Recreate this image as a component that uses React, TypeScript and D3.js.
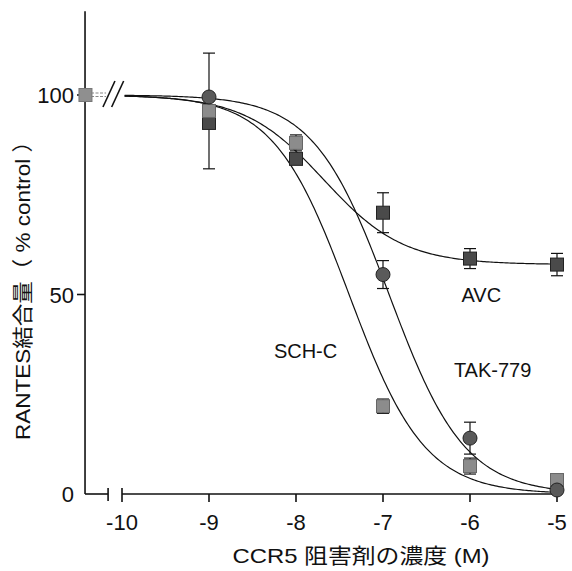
import React from "react"
import * as d3 from "d3"

// log concentrations (M) and readings (% control)
const xTicks = [-10, -9, -8, -7, -6, -5]
const yTicks = [0, 50, 100]
const concentrations = [-9, -8, -7, -6, -5]

const avcValues = [93, 84, 70.5, 59, 57.5]
const avcErrors = [0, 0, 5, 2.5, 2.8]
const schValues = [96, 88, 22, 7, 3.5]
const schErrors = [14.5, 2, 1.8, 2, 0]
const takValues = [99.5, null, 55, 14, 1]
const takErrors = [0, 0, 3.5, 4, 0]

// control (no inhibitor), drawn left of the axis break
const controlLogConc = -10.42
const controlValue = 100

// fitted sigmoid parameters: AVC, SCH-C, TAK-779
const fitNames = ["AVC", "SCH-C", "TAK-779"]
const fitTop = [100, 100, 100]
const fitBottom = [57.5, 0, 0]
const fitLogIC50 = [-7.68, -7.39, -6.93]
const fitHill = [0.95, 1.0, 1.0]

// label anchors (log conc, % control)
const labelText = ["AVC", "TAK-779", "SCH-C"]
const labelX = [-5.87, -5.74, -7.89]
const labelY = [48.1, 29.3, 34.1]

const W = 572
const H = 571
const FONT = "'Liberation Sans', Arial, Helvetica, 'Noto Sans CJK JP', sans-serif"

const x = d3.scaleLinear().domain([-10, -5]).range([122, 557])
const y = d3.scaleLinear().domain([0, 100]).range([494, 95])

function hill(i: number, lx: number) {
  return fitBottom[i] + (fitTop[i] - fitBottom[i]) / (1 + Math.pow(10, fitHill[i] * (lx - fitLogIC50[i])))
}

export default function App() {
  const xs = d3.range(-9.97, -4.999, 0.02)
  const curves = fitNames.map((_, i) =>
    d3.line<number>().x(d => x(d)).y(d => y(hill(i, d)))(xs) as string
  )

  const axisX0 = x(-10.425)
  const breakL = x(-10.16)
  const breakR = x(-10)
  const axisXEnd = x(-4.97)
  const y0 = y(0)
  const yTop = y(121)
  const cap = 6

  const errorBars = (vals: (number | null)[], errs: number[]) =>
    concentrations.map((c, k) => {
      const v = vals[k]
      const e = errs[k]
      if (v == null || !e) return null
      const cx = x(c)
      return (
        <g key={"e" + k} stroke="#111" strokeWidth={1.2}>
          <line x1={cx} x2={cx} y1={y(v + e)} y2={y(v - e)} />
          <line x1={cx - cap} x2={cx + cap} y1={y(v + e)} y2={y(v + e)} />
          <line x1={cx - cap} x2={cx + cap} y1={y(v - e)} y2={y(v - e)} />
        </g>
      )
    })

  const squares = (vals: (number | null)[], fill: string, stroke: string) =>
    concentrations.map((c, k) => {
      const v = vals[k]
      if (v == null) return null
      return <rect key={"s" + k} x={x(c) - 6.5} y={y(v) - 6.5} width={13} height={13}
        fill={fill} stroke={stroke} strokeWidth={1} />
    })

  const yc = y(controlValue)
  const slash = (cx: number) => (
    <line x1={cx - 6} y1={yc + 12} x2={cx + 6} y2={yc - 14} stroke="#111" strokeWidth={1.6} />
  )

  return (
    <svg width={W} height={H} style={{ position: "absolute", left: 0, top: 0, background: "#fff" }}
      fontFamily={FONT}>
      <rect width={W} height={H} fill="#fff" />

      {/* axes */}
      <g stroke="#111" strokeWidth={1.6} fill="none">
        <line x1={axisX0} x2={axisX0} y1={yTop} y2={y0} />
        <line x1={axisX0} x2={breakL} y1={y0} y2={y0} />
        <line x1={breakR} x2={axisXEnd} y1={y0} y2={y0} />
        <line x1={breakL} x2={breakL} y1={y0 - 6} y2={y0 + 7} />
        <line x1={breakR} x2={breakR} y1={y0 - 6} y2={y0 + 8} />
        {xTicks.slice(1).map(t => (
          <line key={t} x1={x(t)} x2={x(t)} y1={y0} y2={y0 + 8} />
        ))}
        {yTicks.slice(1).map(t => (
          <line key={t} x1={axisX0 - 8} x2={axisX0} y1={y(t)} y2={y(t)} />
        ))}
      </g>

      {xTicks.map(t => (
        <text key={t} x={x(t)} y={530} textAnchor="middle" fontSize={22} fill="#111">{t}</text>
      ))}
      {yTicks.map(t => (
        <text key={t} x={74} y={y(t) + 8} textAnchor="end" fontSize={22} fill="#111">{t}</text>
      ))}

      <text x={361} y={563} textAnchor="middle" fontSize={21} fill="#111"
        textLength={257} lengthAdjust="spacingAndGlyphs">CCR5 阻害剤の濃度 (M)</text>
      <text transform="translate(29.5,285) rotate(-90)" textAnchor="middle" fontSize={21} fill="#111"
        textLength={310} lengthAdjust="spacingAndGlyphs">RANTES結合量（ % control ）</text>

      {/* control-to-break connectors and break marks */}
      <g stroke="#888" strokeWidth={1.2} strokeDasharray="3,1.5">
        <line x1={axisX0 + 6} x2={breakL - 2} y1={yc - 2} y2={yc - 2} />
        <line x1={axisX0 + 6} x2={breakL - 2} y1={yc + 1.5} y2={yc + 1.5} />
      </g>
      {slash(x(-10.15))}
      {slash(x(-10.05))}

      {/* fitted curves */}
      {curves.map((d, i) => (
        <path key={i} d={d} fill="none" stroke="#111" strokeWidth={1.2} />
      ))}

      {/* error bars */}
      {errorBars(avcValues, avcErrors)}
      {errorBars(schValues, schErrors)}
      {errorBars(takValues, takErrors)}

      {/* control point */}
      <rect x={x(controlLogConc) - 6.5} y={yc - 6.5} width={13} height={13} fill="#8f8f8f" stroke="#777" />

      {/* markers */}
      {squares(avcValues, "#4a4a4a", "#222")}
      {squares(schValues, "#8c8c8c", "#666")}
      {concentrations.map((c, k) => {
        const v = takValues[k]
        if (v == null) return null
        return <circle key={"c" + k} cx={x(c)} cy={y(v)} r={7} fill="#5a5a5a" stroke="#222" strokeWidth={1} />
      })}

      {labelText.map((t, i) => (
        <text key={t} x={x(labelX[i])} y={y(labelY[i])} textAnchor="middle" fontSize={20} fill="#111">{t}</text>
      ))}
    </svg>
  )
}
